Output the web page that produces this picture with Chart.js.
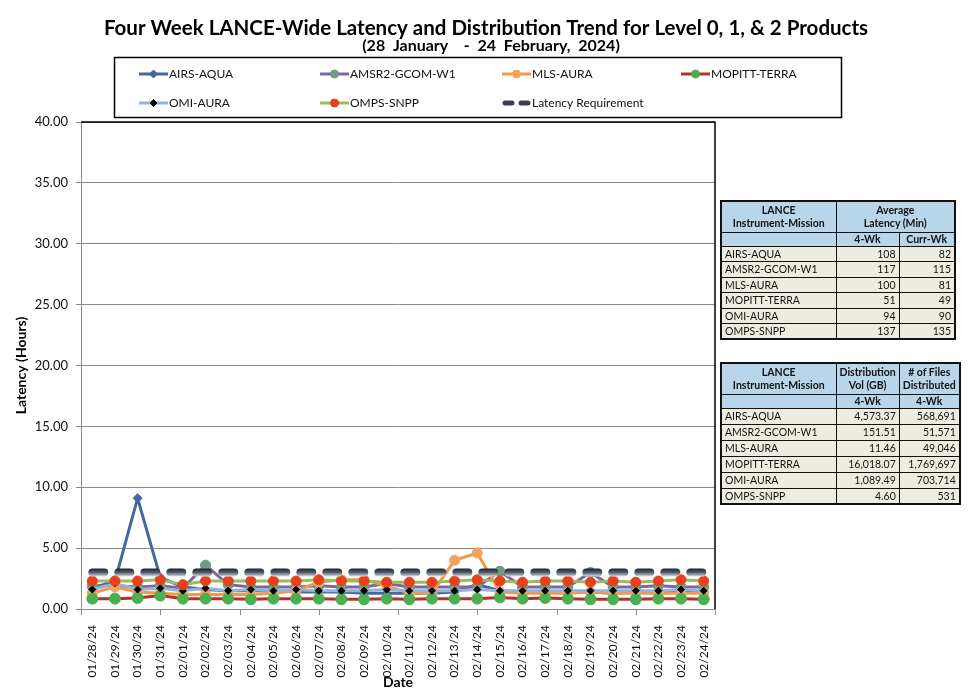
<!DOCTYPE html>
<html>
<head>
<meta charset="utf-8">
<script src="https://cdn.jsdelivr.net/npm/chart.js@4.4.1/dist/chart.umd.min.js"></script>
<style>
  html, body { margin: 0; padding: 0; background: #fff; }
  #wrap { position: relative; width: 972px; height: 700px; }
  #chart { position: absolute; left: 0; top: 0; }
  table.stats {
    position: absolute; left: 720px; border-collapse: collapse; table-layout: fixed;
    font-family: Lato, sans-serif; font-size: 10.5px; color: #111; border: 2px solid #111;
  }
  table.stats td { border: 1px solid #111; padding: 0 3px; white-space: nowrap; overflow: hidden; }
  table.stats td.h { background: #b9d5ea; font-weight: bold; text-align: center; line-height: 13px; }
  table.stats td.d { background: #eeece1; }
  table.stats td.n { background: #eeece1; text-align: right; }
</style>
</head>
<body>
<div id="wrap">
  <canvas id="chart" width="972" height="700"></canvas>
  <table class="stats" id="latTable" style="top:200px"></table>
  <table class="stats" id="distTable" style="top:362px"></table>
</div>
<script>
// dates on the x axis
const dates = ['01/28/24','01/29/24','01/30/24','01/31/24','02/01/24','02/02/24','02/03/24',
  '02/04/24','02/05/24','02/06/24','02/07/24','02/08/24','02/09/24','02/10/24',
  '02/11/24','02/12/24','02/13/24','02/14/24','02/15/24','02/16/24','02/17/24',
  '02/18/24','02/19/24','02/20/24','02/21/24','02/22/24','02/23/24','02/24/24'];

// daily latency in hours
const airsAqua   = [1.7, 2.3, 9.1, 2.6, 1.8, 1.6, 1.5, 1.5, 1.5, 1.4, 1.4, 1.4, 1.3, 1.3,
                    1.3, 1.3, 1.4, 2.0, 1.5, 1.4, 1.4, 1.4, 1.4, 1.3, 1.4, 1.3, 1.4, 1.4];
const amsr2Gcom  = [1.9, 1.9, 1.8, 1.9, 1.7, 3.6, 2.0, 1.8, 1.8, 1.8, 1.9, 1.8, 1.8, 2.1,
                    1.8, 1.8, 1.8, 1.8, 3.1, 1.8, 1.8, 1.8, 3.0, 1.8, 1.8, 1.9, 1.8, 1.8];
const mlsAura    = [1.3, 1.8, 1.4, 1.3, 1.2, 1.2, 1.2, 1.2, 1.3, 1.5, 2.2, 2.4, 2.4, 1.9,
                    1.3, 1.3, 4.0, 4.6, 1.4, 1.3, 1.3, 1.3, 1.4, 1.3, 1.3, 1.3, 1.3, 1.3];
const mopittTerra= [0.85, 0.85, 0.9, 1.1, 0.85, 0.85, 0.85, 0.8, 0.85, 0.85, 0.85, 0.8, 0.8, 0.85,
                    0.8, 0.85, 0.85, 0.85, 0.95, 0.85, 0.9, 0.85, 0.8, 0.8, 0.8, 0.85, 0.85, 0.8];
const omiAura    = [1.6, 2.1, 1.6, 1.7, 1.5, 1.7, 1.5, 1.6, 1.5, 1.6, 1.5, 1.5, 1.5, 1.6,
                    1.5, 1.5, 1.5, 1.6, 1.5, 1.5, 1.5, 1.5, 1.5, 1.5, 1.5, 1.5, 1.6, 1.5];
const ompsSnpp   = [2.3, 2.3, 2.3, 2.4, 2.0, 2.3, 2.3, 2.3, 2.3, 2.3, 2.4, 2.3, 2.3, 2.2,
                    2.2, 2.2, 2.3, 2.4, 2.3, 2.2, 2.3, 2.3, 2.2, 2.3, 2.2, 2.3, 2.4, 2.3];
const latencyReq = [3, 3, 3, 3, 3, 3, 3, 3, 3, 3, 3, 3, 3, 3,
                    3, 3, 3, 3, 3, 3, 3, 3, 3, 3, 3, 3, 3, 3];

// y axis
const yMin = 0, yMax = 40, yStep = 5;

// table data
const missions   = ['AIRS-AQUA','AMSR2-GCOM-W1','MLS-AURA','MOPITT-TERRA','OMI-AURA','OMPS-SNPP'];
const avgLat4Wk  = ['108','117','100','51','94','137'];
const avgLatCurr = ['82','115','81','49','90','135'];
const distVolGB  = ['4,573.37','151.51','11.46','16,018.07','1,089.49','4.60'];
const filesCount = ['568,691','51,571','49,046','1,769,697','703,714','531'];

// ---- tables ----
function buildTable(id, colW, headRows, c1, c2, rowH) {
  const t = document.getElementById(id);
  let html = '<colgroup>' + colW.map(w => `<col style="width:${w}px">`).join('') + '</colgroup>';
  html += headRows.join('');
  missions.forEach((m, i) => {
    html += `<tr style="height:${rowH}px"><td class="d">${m}</td><td class="n">${c1[i]}</td><td class="n">${c2[i]}</td></tr>`;
  });
  t.innerHTML = html;
}
buildTable('latTable', [115, 63, 56], [
  '<tr style="height:31px"><td class="h">LANCE<br>Instrument-Mission</td><td class="h" colspan="2">Average<br>Latency (Min)</td></tr>',
  '<tr style="height:13px"><td class="h"></td><td class="h">4-Wk</td><td class="h">Curr-Wk</td></tr>'
], avgLat4Wk, avgLatCurr, 15.5);
buildTable('distTable', [115, 63, 56], [
  '<tr style="height:31px"><td class="h">LANCE<br>Instrument-Mission</td><td class="h">Distribution<br>Vol (GB)</td><td class="h"># of Files<br>Distributed</td></tr>',
  '<tr style="height:13px"><td class="h"></td><td class="h">4-Wk</td><td class="h">4-Wk</td></tr>'
], distVolGB, filesCount, 16);

// ---- chart ----
Chart.defaults.font.family = 'Lato';
Chart.defaults.color = '#111';

function reqGradient(ctx) {
  const chart = ctx.chart;
  if (!chart.chartArea) return '#4a505c';
  const y = chart.scales.y.getPixelForValue(3);
  const g = chart.ctx.createLinearGradient(0, y - 4, 0, y + 4);
  g.addColorStop(0, '#1b212b');
  g.addColorStop(0.5, '#555c6b');
  g.addColorStop(1, '#d9dde5');
  return g;
}

function series(label, data, line, marker, style, radius, order, border) {
  return {
    label, data, order,
    borderColor: line, borderWidth: 3,
    pointStyle: style, pointRadius: radius,
    pointBackgroundColor: marker, pointBorderColor: border || marker, pointBorderWidth: 1,
    tension: 0, fill: false
  };
}

const datasets = [
  series('AIRS-AQUA', airsAqua, '#45679d', '#45679d', 'rectRot', 4.5, 7),
  series('AMSR2-GCOM-W1', amsr2Gcom, '#8064a2', '#6fa07e', 'circle', 5, 6, '#6f8f90'),
  series('MLS-AURA', mlsAura, '#f79646', '#f2a25c', 'circle', 5, 5),
  series('MOPITT-TERRA', mopittTerra, '#b8302c', '#4caf50', 'circle', 5.5, 4),
  series('OMI-AURA', omiAura, '#95b3d7', '#000000', 'rectRot', 3.5, 3),
  series('OMPS-SNPP', ompsSnpp, '#9bbb59', '#e8401c', 'circle', 5, 2),
  {
    label: 'Latency Requirement', data: latencyReq, order: 1,
    borderColor: reqGradient, borderWidth: 8, borderDash: [12, 14], borderCapStyle: 'round',
    pointRadius: 0, tension: 0, fill: false
  }
];

const legendSlots = [
  [139, 74], [320, 74], [502, 74], [681, 74],
  [139, 103], [320, 103], [502, 103]
];

const decorPlugin = {
  id: 'decor',
  afterDraw(chart) {
    const ctx = chart.ctx;
    const area = chart.chartArea;
    const xs = chart.scales.x;
    ctx.save();

    // titles
    ctx.fillStyle = '#000';
    ctx.textAlign = 'center';
    ctx.textBaseline = 'middle';
    ctx.font = 'bold 20.5px Lato';
    ctx.fillText('Four Week LANCE-Wide Latency and Distribution Trend for Level 0, 1, & 2 Products', 486, 28);
    ctx.font = 'bold 16px Lato';
    ctx.fillText('(28  January    -  24  February,  2024)', 491, 46);

    // legend box
    ctx.strokeStyle = '#000';
    ctx.lineWidth = 1.5;
    ctx.strokeRect(114.5, 57.5, 727, 60);
    ctx.font = '12px Lato';
    ctx.textAlign = 'left';
    chart.data.datasets.forEach((ds, i) => {
      const [x, y] = legendSlots[i];
      if (ds.borderDash) {
        ctx.strokeStyle = '#3b414d';
        ctx.lineWidth = 5;
        ctx.lineCap = 'round';
        ctx.beginPath();
        ctx.moveTo(x + 3, y); ctx.lineTo(x + 10, y);
        ctx.moveTo(x + 19, y); ctx.lineTo(x + 26, y);
        ctx.stroke();
      } else {
        ctx.strokeStyle = ds.borderColor;
        ctx.lineWidth = 3;
        ctx.lineCap = 'butt';
        ctx.beginPath(); ctx.moveTo(x, y); ctx.lineTo(x + 29, y); ctx.stroke();
        ctx.fillStyle = ds.pointBackgroundColor;
        ctx.strokeStyle = ds.pointBorderColor;
        ctx.lineWidth = 1;
        Chart.helpers.drawPoint(ctx, { pointStyle: ds.pointStyle, radius: Math.min(ds.pointRadius, 4), rotation: 0, borderWidth: 1 }, x + 14.5, y);
      }
      ctx.fillStyle = '#111';
      ctx.fillText(ds.label, x + 30, y);
    });

    // black frame on top and right of plot area
    ctx.strokeStyle = '#000';
    ctx.lineWidth = 1.5;
    ctx.lineCap = 'butt';
    ctx.beginPath();
    ctx.moveTo(area.left, area.top);
    ctx.lineTo(area.right, area.top);
    ctx.lineTo(area.right, area.bottom);
    ctx.stroke();

    // x tick marks every 3.5 days
    ctx.strokeStyle = '#8a8a8a';
    ctx.lineWidth = 1;
    ctx.beginPath();
    for (let k = 0; k <= 8; k++) {
      const px = Math.round(xs.getPixelForValue(-0.5 + 3.5 * k)) + 0.5;
      ctx.moveTo(px, area.bottom);
      ctx.lineTo(px, area.bottom + 6);
    }
    ctx.stroke();
    ctx.restore();
  }
};

new Chart(document.getElementById('chart'), {
  type: 'line',
  data: { labels: dates, datasets },
  options: {
    responsive: false,
    animation: false,
    devicePixelRatio: 1,
    layout: { padding: { top: 122, left: 0, right: 257, bottom: 0 } },
    plugins: { legend: { display: false }, title: { display: false }, tooltip: { enabled: false } },
    scales: {
      x: {
        offset: true,
        grid: { display: false },
        border: { display: true, color: '#8a8a8a', width: 1 },
        ticks: { autoSkip: false, minRotation: 90, maxRotation: 90, padding: 8, font: { size: 12 }, color: '#111' },
        title: { display: true, text: 'Date', font: { size: 14, weight: 'bold' }, padding: { top: 0, bottom: 9 }, color: '#000' },
        afterFit(s) { s.height = 91; }
      },
      y: {
        min: yMin, max: yMax,
        grid: { color: '#8a8a8a', tickLength: 5 },
        border: { display: true, color: '#8a8a8a', width: 1 },
        ticks: { stepSize: yStep, padding: 8, font: { size: 13 }, color: '#111', callback: v => v.toFixed(2) },
        title: { display: true, text: 'Latency (Hours)', font: { size: 14, weight: 'bold' }, padding: { top: 13, bottom: 0 }, color: '#000' },
        afterFit(s) { s.width = 81; }
      }
    }
  },
  plugins: [decorPlugin]
});
</script>
</body>
</html>
